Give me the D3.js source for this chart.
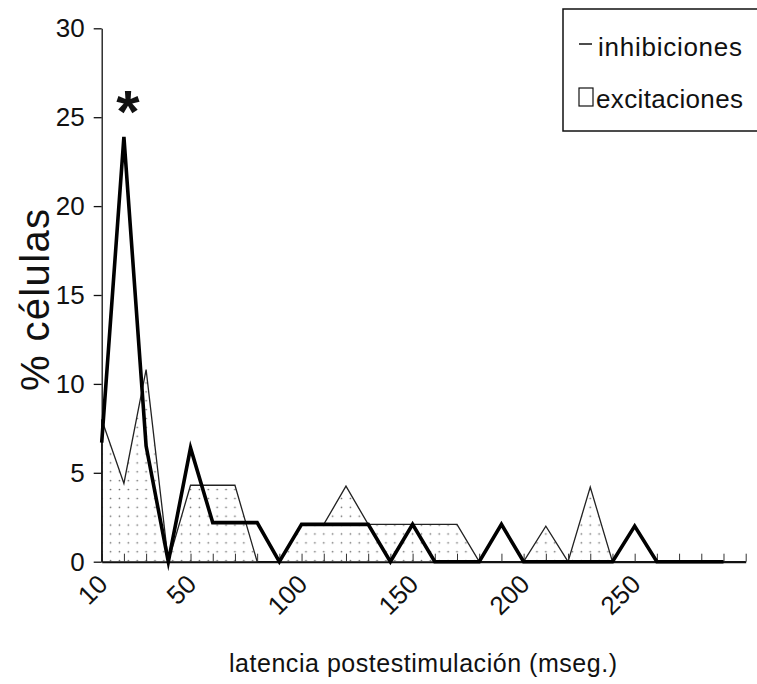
<!DOCTYPE html>
<html>
<head>
<meta charset="utf-8">
<script src="https://cdn.jsdelivr.net/npm/d3@7"></script>
<style>
  html, body { margin: 0; padding: 0; background: #fff; }
  svg { display: block; }
  text { font-family: "Liberation Sans", Arial, Helvetica, sans-serif; fill: #111; }
</style>
</head>
<body>
<svg id="chart" width="757" height="684"></svg>
<script>
// Latency bins (ms) after stimulation
const latencias = d3.range(10, 301, 10);

// % of cells per latency bin
const excitaciones = [8.0, 4.4, 10.8, 0, 4.3, 4.3, 4.3, 0, 0, 2.1,
                      2.1, 4.25, 2.1, 2.1, 2.1, 2.1, 2.1, 0, 0, 0,
                      2.0, 0, 4.2, 0, 0, 0, 0, 0, 0, 0];
const inhibiciones = [6.7, 23.9, 6.5, 0, 6.4, 2.2, 2.2, 2.2, 0, 2.1,
                      2.1, 2.1, 2.1, 0, 2.1, 0, 0, 0, 2.1, 0,
                      0, 0, 0, 0, 2.0, 0, 0, 0, 0];

const yTicks = [0, 5, 10, 15, 20, 25, 30];
const xTickLabels = [10, 50, 100, 150, 200, 250];

const svg = d3.select("#chart");

const x = d3.scalePoint().domain(latencias).range([101.7, 745.7]);
const y = d3.scaleLinear().domain([0, 30]).range([561.7, 28.3]);

// dotted fill for the excitation area
const defs = svg.append("defs");
const step = x(20) - x(10);
const pat = defs.append("pattern")
  .attr("id", "puntos")
  .attr("patternUnits", "userSpaceOnUse")
  .attr("x", x(10) + step / 2.5 - step / 5)
  .attr("y", y(0) - 10 - step / 5)
  .attr("width", step / 2.5)
  .attr("height", step / 2.5);
pat.append("circle")
  .attr("cx", step / 5).attr("cy", step / 5)
  .attr("r", 0.85).attr("fill", "#666");

const exData = latencias.map((d, i) => [d, excitaciones[i]]);
const inData = inhibiciones.map((v, i) => [latencias[i], v]);

const area = d3.area().x(d => x(d[0])).y0(y(0)).y1(d => y(d[1]));
const line = d3.line().x(d => x(d[0])).y(d => y(d[1]));

svg.append("path").datum(exData)
  .attr("d", area).attr("fill", "url(#puntos)").attr("stroke", "none");
// left edge of the excitation area
svg.append("line")
  .attr("x1", x(10)).attr("x2", x(10))
  .attr("y1", y(0)).attr("y2", y(excitaciones[0]))
  .attr("stroke", "#222").attr("stroke-width", 1.3);
svg.append("path").datum(exData)
  .attr("d", line).attr("fill", "none")
  .attr("stroke", "#222").attr("stroke-width", 1.3)
  .attr("stroke-linejoin", "miter");

// x axis with inward ticks on every bin
const xAxis = d3.axisBottom(x)
  .tickSizeInner(-8).tickSizeOuter(0)
  .tickFormat(d => xTickLabels.includes(d) ? String(d) : "");
const gx = svg.append("g").attr("transform", `translate(0,${y(0)})`).call(xAxis);
gx.select(".domain").attr("stroke", "#111").attr("stroke-width", 2);
gx.selectAll(".tick line").attr("stroke", "#333").attr("stroke-width", 1);
gx.selectAll(".tick text")
  .attr("font-size", 26)
  .attr("text-anchor", "end")
  .attr("y", 0).attr("dy", 0)
  .attr("transform", "translate(7,24) rotate(-45)");

// y axis
const yAxis = d3.axisLeft(y).tickValues(yTicks).tickSizeInner(8).tickSizeOuter(0).tickPadding(9);
const gy = svg.append("g").attr("transform", `translate(${x(10)},0)`).call(yAxis);
gy.select(".domain").attr("stroke", "#111").attr("stroke-width", 1.3);
gy.selectAll(".tick line").attr("stroke", "#111").attr("stroke-width", 1.3);
gy.selectAll(".tick text").attr("font-size", 26);

// inhibitions: heavy line, no fill
svg.append("path").datum(inData)
  .attr("d", line).attr("fill", "none")
  .attr("stroke", "#000").attr("stroke-width", 3.6)
  .attr("stroke-linejoin", "miter").attr("stroke-miterlimit", 10);

// significance mark over the 20 ms peak
svg.append("text")
  .attr("x", x(20) + 4).attr("y", 132)
  .attr("text-anchor", "middle")
  .attr("font-size", 60).attr("font-weight", "bold")
  .text("*");

// axis titles
svg.append("text")
  .attr("transform", "translate(49,300) rotate(-90)")
  .attr("text-anchor", "middle")
  .attr("font-size", 40)
  .attr("textLength", 182).attr("lengthAdjust", "spacing")
  .text("% células");

svg.append("text")
  .attr("x", 423).attr("y", 672)
  .attr("text-anchor", "middle")
  .attr("font-size", 25)
  .attr("textLength", 388).attr("lengthAdjust", "spacing")
  .text("latencia postestimulación (mseg.)");

// legend
const lg = svg.append("g");
lg.append("rect")
  .attr("x", 563).attr("y", 9).attr("width", 210).attr("height", 122)
  .attr("fill", "#fff").attr("stroke", "#111").attr("stroke-width", 1.5);
lg.append("line")
  .attr("x1", 579).attr("x2", 592).attr("y1", 44).attr("y2", 44)
  .attr("stroke", "#111").attr("stroke-width", 1.5);
lg.append("text")
  .attr("x", 598).attr("y", 56)
  .attr("font-size", 26)
  .attr("textLength", 144).attr("lengthAdjust", "spacing")
  .text("inhibiciones");
lg.append("rect")
  .attr("x", 579).attr("y", 88).attr("width", 14).attr("height", 18)
  .attr("fill", "#fff").attr("stroke", "#111").attr("stroke-width", 1.2);
lg.append("text")
  .attr("x", 596).attr("y", 108)
  .attr("font-size", 26)
  .attr("textLength", 147).attr("lengthAdjust", "spacing")
  .text("excitaciones");
</script>
</body>
</html>
